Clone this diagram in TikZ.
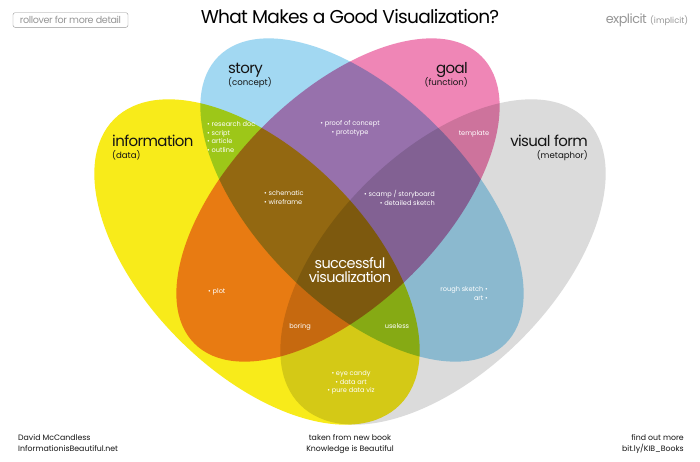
\documentclass[tikz,border=0pt]{standalone}
\usepackage{fontspec}
\setmainfont{Poppins}
\newfontfamily\tightf{Poppins}[LetterSpace=-4]
\definecolor{cyel}{RGB}{248,235,26}
\definecolor{cblu}{RGB}{162,216,242}
\definecolor{cpnk}{RGB}{239,134,182}
\definecolor{cgry}{RGB}{219,219,219}
\definecolor{ctxt}{RGB}{20,20,20}
\definecolor{cfade}{RGB}{150,150,150}
\tikzset{
  fs/.style={font=\fontsize{#1}{#1}\selectfont},
  setname/.style={font=\tightf\fontsize{15}{15}\selectfont, text=ctxt, inner sep=0pt},
  setsub/.style={font=\fontsize{8.6}{9}\selectfont, text=ctxt, inner sep=0pt},
  item/.style={font=\fontsize{6.6}{8.6}\selectfont, text=white, inner sep=0pt, align=left},
  foot/.style={font=\fontsize{7.8}{9}\selectfont, text=ctxt, inner sep=0pt},
}
\begin{document}
\begin{tikzpicture}[x=1pt,y=-1pt]
\useasboundingbox (0,0) rectangle (700,461);
\fill[white] (0,0) rectangle (700,461);
\begin{scope}[blend mode=multiply]
\fill[cyel, rotate around={-45:(257,262)}] (257,262) ellipse [x radius=202, y radius=110];
\fill[cgry, rotate around={45:(443,262)}] (443,262) ellipse [x radius=202, y radius=110];
\fill[cblu, rotate around={-45:(362,200)}] (362,200) ellipse [x radius=203, y radius=105];
\fill[cpnk, rotate around={45:(338,200)}] (338,200) ellipse [x radius=203, y radius=105];
\end{scope}
% header
\node[draw=cfade, rounded corners=2pt, minimum width=115, minimum height=14.6, inner sep=0pt, font=\tightf\fontsize{9.6}{10}\selectfont, text=cfade] (roll) at (70.5,20) {rollover for more detail};
\node[anchor=base, font=\tightf\fontsize{18.6}{19}\selectfont, text=black, inner sep=0pt] (title) at (350,23) {What Makes a Good Visualization?};
\node[anchor=base east, font=\tightf\fontsize{12.8}{13}\selectfont, text=cfade, inner sep=0pt] (expl) at (647,23) {explicit};
\node[anchor=base west, fs=8.3, text=cfade, inner sep=0pt] (impl) at (650,23) {(implicit)};
% set names
\node[setname, anchor=base west] (story) at (228,73) {story};
\node[setsub, anchor=base west] (storys) at (228,85) {(concept)};
\node[setname, anchor=base east] (goal) at (468,73) {goal};
\node[setsub, anchor=base east] (goals) at (468,85) {(function)};
\node[setname, anchor=base west] (info) at (112,146) {information};
\node[setsub, anchor=base west] (infos) at (112,158) {(data)};
\node[setname, anchor=base east] (vis) at (588,146) {visual form};
\node[setsub, anchor=base east] (viss) at (588,158) {(metaphor)};
% region labels
\node[item, anchor=north west] (research) at (207,121.5) {• research doc\\• script\\• article\\• outline};
\node[item, anchor=north, align=center] (proof) at (350,120.5) {• proof of concept\\• prototype};
\node[item, anchor=base] (templ) at (474,135) {template};
\node[item, anchor=north west] (schem) at (264,190.5) {• schematic\\• wireframe};
\node[item, anchor=north east, align=right] (scamp) at (435,190.5) {• scamp / storyboard\\• detailed sketch};
\node[font=\tightf\fontsize{14.5}{14}\selectfont, text=white, inner sep=0pt, align=center] (succ) at (350,270) {successful\\visualization};
\node[item, anchor=base west] (plot) at (208,293) {• plot};
\node[item, anchor=north east, align=right] (rough) at (488,286.5) {rough sketch •\\art •};
\node[item, anchor=base] (boring) at (300,328) {boring};
\node[item, anchor=base] (useless) at (397,328) {useless};
\node[item, anchor=north, align=center] (eye) at (351,370.5) {• eye candy\\• data art\\• pure data viz};
% footer
\node[foot, anchor=base west] (dm) at (18,440) {David McCandless};
\node[foot, anchor=base west] (iib) at (18,451) {InformationisBeautiful.net};
\node[foot, anchor=base] (taken) at (350,440) {taken from new book};
\node[foot, anchor=base] (kib) at (350,451) {Knowledge is Beautiful};
\node[foot, anchor=base east] (fom) at (684,440) {find out more};
\node[foot, anchor=base east] (bit) at (684,451) {bit.ly/KIB\_Books};
\end{tikzpicture}
\end{document}
